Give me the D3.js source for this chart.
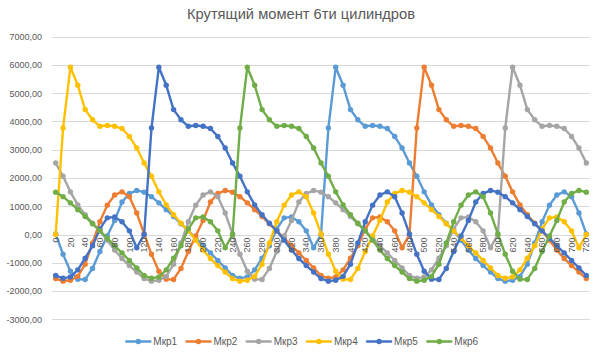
<!DOCTYPE html>
<html><head><meta charset="utf-8">
<script src="https://cdn.jsdelivr.net/npm/d3@7"></script>
<style>
body{margin:0;background:#fff;}
svg text{font-family:"Liberation Sans",Arial,sans-serif;fill:#595959;}
</style>
</head><body>
<svg id="chart" width="594" height="356"></svg>
<script>
const title = "Крутящий момент 6ти цилиндров";
const angles = [0,10,20,30,40,50,60,70,80,90,100,110,120,130,140,150,160,170,180,190,200,210,220,230,240,250,260,270,280,290,300,310,320,330,340,350,360,370,380,390,400,410,420,430,440,450,460,470,480,490,500,510,520,530,540,550,560,570,580,590,600,610,620,630,640,650,660,670,680,690,700,710,720];
const xTickLabels = [0,20,40,60,80,100,120,140,160,180,200,220,240,260,280,300,320,340,360,380,400,420,440,460,480,500,520,540,560,580,600,620,640,660,680,700,720];
const yTicks = [-3000,-2000,-1000,0,1000,2000,3000,4000,5000,6000,7000];
const seriesNames = ["Мкр1","Мкр2","Мкр3","Мкр4","Мкр5","Мкр6"];
const colors = ["#5B9BD5","#ED7D31","#A5A5A5","#FFC000","#4472C4","#70AD47"];

const mkr1 = [20,-700,-1300,-1580,-1590,-1200,-600,-50,500,1150,
1450,1560,1500,1340,1120,880,640,380,130,-130,
-400,-650,-920,-1180,-1450,-1550,-1500,-1250,-840,-400,
200,590,620,450,130,-470,
0,3770,5920,5280,4420,4060,3830,3860,3830,3750,
3470,3060,2530,2060,1510,1050,700,400,130,-200,
-550,-850,-1100,-1330,-1560,-1650,-1620,-1480,-1050,-300,
450,1040,1400,1510,1340,760,20];
const mkr2 = [-1560,-1650,-1620,-1480,-1050,-300,450,1040,1400,1510,
1340,760,20,-700,-1300,-1580,-1590,-1200,-600,-50,
500,1150,1450,1560,1500,1340,1120,880,640,380,
130,-130,-400,-650,-920,-1180,-1450,-1550,-1500,-1250,
-840,-400,200,590,620,450,130,-470,
0,3770,5920,5280,4420,4060,3830,3860,3830,3750,
3470,3060,2530,2060,1510,1050,700,400,130,-200,
-550,-850,-1100,-1330,-1560];
const mkr3 = [2530,2060,1510,1050,700,400,130,-200,-550,-850,
-1100,-1330,-1560,-1650,-1620,-1480,-1050,-300,450,1040,
1400,1510,1340,760,20,-700,-1300,-1580,-1590,-1200,
-600,-50,500,1150,1450,1560,1500,1340,1120,880,
640,380,130,-130,-400,-650,-920,-1180,-1450,-1550,
-1500,-1250,-840,-400,200,590,620,450,130,-470,
0,3770,5920,5280,4420,4060,3830,3860,3830,3750,
3470,3060,2530];
const mkr4 = [0,3770,5920,5280,4420,4060,3830,3860,3830,3750,
3470,3060,2530,2060,1510,1050,700,400,130,-200,
-550,-850,-1100,-1330,-1560,-1650,-1620,-1480,-1050,-300,
450,1040,1400,1510,1340,760,20,-700,-1300,-1580,
-1590,-1200,-600,-50,500,1150,1450,1560,1500,1340,
1120,880,640,380,130,-130,-400,-650,-920,-1180,
-1450,-1550,-1500,-1250,-840,-400,200,590,620,450,
130,-470,0];
const mkr5 = [-1450,-1550,-1500,-1250,-840,-400,200,590,620,450,
130,-470,
0,3770,5920,5280,4420,4060,3830,3860,3830,3750,
3470,3060,2530,2060,1510,1050,700,400,130,-200,
-550,-850,-1100,-1330,-1560,-1650,-1620,-1480,-1050,-300,
450,1040,1400,1510,1340,760,20,-700,-1300,-1580,
-1590,-1200,-600,-50,500,1150,1450,1560,1500,1340,
1120,880,640,380,130,-130,-400,-650,-920,-1180,
-1450];
const mkr6 = [1500,1340,1120,880,640,380,130,-130,-400,-650,
-920,-1180,-1450,-1550,-1500,-1250,-840,-400,200,590,
620,450,130,-470,
0,3770,5920,5280,4420,4060,3830,3860,3830,3750,
3470,3060,2530,2060,1510,1050,700,400,130,-200,
-550,-850,-1100,-1330,-1560,-1650,-1620,-1480,-1050,-300,
450,1040,1400,1510,1340,760,20,-700,-1300,-1580,
-1590,-1200,-600,-50,500,1150,1450,1560,1500];

const seriesValues = [mkr1,mkr2,mkr3,mkr4,mkr5,mkr6];
const series = seriesNames.map((name,i)=>({name, color:colors[i], values:seriesValues[i]}));

const svg = d3.select("#chart");
svg.append("rect").attr("width",594).attr("height",356).attr("fill","#fff");

const plotLeft = 52, plotRight = 590;
const x = d3.scaleBand().domain(angles).range([plotLeft, plotRight]);
const xc = d => x(d) + x.bandwidth()/2;
const y = d3.scaleLinear().domain([-3000,7000]).range([319.3,36.7]);

// title
svg.append("text").attr("x",301).attr("y",19).attr("text-anchor","middle")
  .style("font-size","14.7px").text(title);

// gridlines
svg.append("g").selectAll("line").data(yTicks).join("line")
  .attr("x1",plotLeft).attr("x2",plotRight)
  .attr("y1",d=>Math.round(y(d))+0.5).attr("y2",d=>Math.round(y(d))+0.5)
  .attr("stroke","#d9d9d9").attr("stroke-width",1);

// y axis labels
const fmt = d => d.toFixed(2).replace(".",",");
const yAxis = svg.append("g").attr("transform",`translate(${plotLeft},0)`)
  .call(d3.axisLeft(y).tickValues(yTicks).tickFormat(fmt).tickSize(0).tickPadding(10));
yAxis.select(".domain").remove();
yAxis.selectAll("text").style("font-size","9px").style("font-family","'Liberation Sans',Arial,sans-serif").attr("fill","#595959");

// series lines
const line = d3.line().x((d,i)=>xc(angles[i])).y(d=>y(d));
series.forEach(s=>{
  const g = svg.append("g");
  g.append("path").datum(s.values).attr("d",line)
    .attr("fill","none").attr("stroke",s.color).attr("stroke-width",2.4)
    .attr("stroke-linejoin","round").attr("stroke-linecap","round");
  g.selectAll("circle").data(s.values).join("circle")
    .attr("cx",(d,i)=>xc(angles[i])).attr("cy",d=>y(d)).attr("r",2.7)
    .attr("fill",s.color);
});

// x axis labels (category axis crossing at 0)
const xAxis = svg.append("g").attr("transform",`translate(0,${y(0)})`)
  .call(d3.axisBottom(x).tickValues(xTickLabels).tickSize(0).tickPadding(0));
xAxis.select(".domain").remove();
xAxis.selectAll("text")
  .style("font-size","9px").style("font-family","'Liberation Sans',Arial,sans-serif")
  .attr("fill","#595959")
  .attr("transform","rotate(-90)")
  .attr("text-anchor","end")
  .attr("x",-3).attr("y",0).attr("dy","0.35em");

// legend
const legend = svg.append("g");
const lx = d3.scalePoint().domain(seriesNames).range([138.3,439.3]);
series.forEach(s=>{
  const cx = lx(s.name), cy = 341.5;
  legend.append("line").attr("x1",cx-12).attr("x2",cx+12).attr("y1",cy).attr("y2",cy)
    .attr("stroke",s.color).attr("stroke-width",2.4).attr("stroke-linecap","round");
  legend.append("circle").attr("cx",cx).attr("cy",cy).attr("r",2.7).attr("fill",s.color);
  legend.append("text").attr("x",cx+15).attr("y",cy).attr("dy","0.35em")
    .style("font-size","10px").text(s.name);
});
</script>
</body></html>
